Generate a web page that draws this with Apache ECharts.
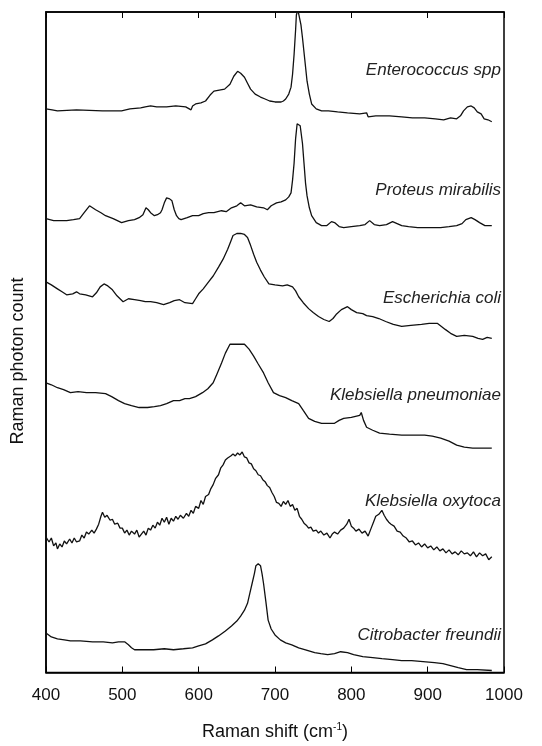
<!DOCTYPE html>
<html>
<head>
<meta charset="utf-8">
<script src="https://cdn.jsdelivr.net/npm/echarts@6/dist/echarts.min.js"></script>
<style>
html,body{margin:0;padding:0;background:#fff;}
#chart{width:542px;height:746px;}
</style>
</head>
<body>
<div id="chart"></div>
<script>
// Raman shift (cm-1) tick labels
const xTicks = [400, 500, 600, 700, 800, 900, 1000];
const speciesNames = ['Enterococcus spp', 'Proteus mirabilis', 'Escherichia coli', 'Klebsiella pneumoniae', 'Klebsiella oxytoca', 'Citrobacter freundii'];

// Spectra: [Raman shift, photon count (arbitrary, offset stacked)]
const enterococcus = [[400,570],[408,569],[415,568],[440,569],[474,568],[499,568],[510,570],[524,571],[530,572],[537,573],[545,572],[558,572],[570,573],[583,572],[590,569],[592,573],[596,575],[603,576],[609,578],[615,584],[620,588],[627,589],[634,590],[641,595],[646,603],[651,608],[655,606],[660,602],[664,596],[668,590],[674,585],[681,582],[687,580],[693,578],[700,577],[708,577],[711,578],[714,580],[718,585],[721,592],[723,605],[725,625],[727,650],[728,665],[730,670],[732,668],[734,655],[736,642],[739,620],[742,598],[745,585],[748,575],[754,570],[761,568],[770,568],[782,567],[795,566],[811,565],[820,566],[822,562],[832,563],[850,563],[866,562],[880,561],[896,561],[910,560],[921,559],[930,561],[938,560],[943,563],[947,568],[952,572],[957,573],[961,571],[965,567],[970,565],[974,560],[979,559],[984,557]];
const proteus = [[400,459],[410,457],[427,457],[436,458],[444,459],[450,465],[457,472],[461,470],[465,468],[472,465],[478,462],[488,459],[499,455],[508,457],[516,458],[522,460],[527,463],[531,470],[534,468],[537,465],[542,462],[546,463],[550,465],[552,468],[555,475],[558,480],[562,479],[565,477],[568,468],[571,462],[574,459],[577,458],[585,460],[592,462],[600,462],[606,464],[613,465],[620,465],[630,467],[636,466],[643,470],[650,472],[655,475],[660,472],[668,473],[676,471],[685,470],[690,468],[695,472],[702,475],[708,476],[714,478],[718,481],[721,485],[723,498],[725,515],[727,540],[729,555],[731,556],[733,553],[736,535],[738,515],[740,495],[742,482],[745,470],[748,462],[754,455],[761,452],[768,452],[774,456],[778,455],[784,451],[790,450],[800,451],[811,452],[818,453],[824,457],[830,453],[837,452],[846,453],[854,456],[860,454],[866,452],[875,451],[887,450],[900,450],[917,450],[928,451],[938,452],[945,454],[950,458],[957,460],[962,458],[968,455],[975,452],[984,452]];
const ecoli = [[400,395],[407,392],[415,388],[421,385],[427,382],[435,383],[440,385],[444,383],[452,382],[461,380],[466,384],[471,390],[476,393],[481,391],[487,387],[493,381],[501,375],[508,378],[516,377],[524,376],[530,375],[537,375],[545,374],[554,372],[562,374],[568,376],[575,377],[582,374],[592,373],[596,378],[600,383],[606,388],[613,395],[619,401],[626,410],[632,418],[638,428],[642,436],[645,442],[650,444],[655,444],[660,443],[664,440],[668,432],[672,423],[676,415],[681,407],[686,400],[692,393],[700,392],[710,391],[716,392],[723,390],[727,386],[731,380],[737,374],[744,368],[750,364],[757,360],[764,357],[771,355],[776,358],[780,362],[787,367],[795,370],[800,367],[807,364],[815,363],[820,361],[828,360],[836,358],[845,355],[855,352],[866,350],[878,351],[892,352],[902,353],[913,353],[918,350],[923,347],[930,343],[938,340],[948,341],[959,340],[966,338],[972,337],[978,339],[984,338]];
const kpneumoniae = [[400,293],[407,291],[415,288],[423,286],[432,283],[442,284],[453,283],[465,283],[478,282],[486,279],[495,275],[503,272],[512,270],[522,268],[533,268],[542,269],[550,270],[558,272],[567,275],[575,275],[582,277],[588,277],[596,279],[605,283],[612,287],[619,293],[624,302],[630,313],[635,323],[641,332],[650,332],[660,332],[666,327],[672,320],[678,312],[685,303],[691,293],[698,283],[706,280],[714,278],[722,275],[731,272],[737,265],[744,257],[752,254],[761,252],[770,252],[778,252],[784,255],[790,257],[800,258],[811,260],[813,263],[816,255],[820,248],[828,245],[837,242],[850,241],[866,240],[880,240],[896,240],[906,239],[917,237],[928,234],[938,230],[948,228],[959,227],[970,227],[984,227]];
const koxytoca = [[400,137],[404,132],[407,136],[410,128],[413,131],[415,125],[418,130],[421,127],[424,133],[427,130],[431,135],[434,131],[437,136],[440,132],[444,133],[447,139],[450,136],[453,142],[456,140],[460,144],[463,141],[466,145],[469,150],[472,158],[474,162],[477,157],[480,159],[484,154],[487,155],[490,150],[494,151],[497,146],[500,146],[503,141],[506,144],[509,139],[512,143],[516,140],[519,144],[522,137],[525,140],[528,143],[531,139],[534,146],[537,144],[540,149],[543,146],[546,152],[549,149],[552,156],[555,152],[558,157],[561,150],[564,156],[567,153],[570,158],[573,155],[576,159],[580,156],[584,161],[587,158],[590,164],[593,161],[596,168],[600,166],[603,174],[606,170],[609,178],[613,180],[616,186],[619,190],[622,196],[626,200],[629,207],[632,210],[635,215],[638,217],[642,219],[645,221],[648,219],[651,222],[654,220],[657,223],[660,218],[663,217],[666,212],[669,211],[672,206],[675,204],[678,200],[681,199],[684,195],[687,193],[690,189],[693,187],[696,182],[699,178],[702,172],[705,171],[708,168],[711,173],[714,170],[717,174],[720,168],[723,170],[726,164],[729,166],[732,158],[735,155],[738,151],[741,149],[744,146],[747,147],[750,143],[754,144],[757,141],[760,143],[764,139],[768,141],[772,136],[775,140],[778,142],[782,140],[786,144],[790,146],[794,150],[797,155],[800,148],[803,146],[806,143],[810,145],[814,141],[818,143],[822,138],[826,146],[829,152],[832,158],[836,160],[840,164],[843,159],[846,155],[849,152],[852,150],[856,148],[860,143],[864,142],[868,138],[872,136],[876,132],[880,133],[884,129],[888,131],[892,127],[896,130],[900,126],[904,128],[908,124],[912,127],[916,123],[920,125],[924,121],[928,124],[932,120],[936,122],[940,119],[944,123],[948,120],[952,121],[956,118],[960,122],[964,117],[968,121],[972,118],[976,120],[980,114],[984,117]];
const citrobacter = [[400,40],[407,36],[415,34],[424,33],[432,32],[445,32],[461,31],[475,31],[487,30],[495,31],[503,31],[508,28],[512,25],[516,23],[528,23],[541,23],[555,24],[567,23],[580,24],[592,25],[600,27],[609,29],[618,33],[626,37],[635,42],[643,47],[650,52],[655,57],[660,63],[664,70],[667,80],[670,90],[673,100],[675,108],[678,110],[681,108],[683,100],[685,90],[688,72],[691,53],[695,44],[700,38],[707,33],[714,30],[722,28],[731,25],[740,23],[752,20],[760,19],[769,18],[778,19],[786,21],[795,20],[803,18],[815,16],[828,15],[840,14],[854,13],[866,12],[879,12],[894,11],[909,10],[920,9],[930,7],[940,5],[951,3],[965,3],[984,2]];

const spectra = [enterococcus, proteus, ecoli, kpneumoniae, koxytoca, citrobacter];
const labelY = [72, 192, 300, 397, 503, 637];

const chart = echarts.init(document.getElementById('chart'));
const FONT = '"Liberation Sans", Arial, sans-serif';

const series = spectra.map((d, i) => ({
  name: speciesNames[i],
  type: 'line',
  data: d,
  showSymbol: false,
  symbol: 'none',
  lineStyle: {color: '#111', width: 1.3},
  clip: true,
  animation: false
}));

const graphics = speciesNames.map((n, i) => ({
  type: 'text', right: 41, top: labelY[i] - 10,
  style: {text: n, font: 'italic 17px ' + FONT, fill: '#222'}
}));
graphics.push({
  type: 'text', x: 18, y: 361, rotation: Math.PI / 2,
  style: {text: 'Raman photon count', font: '18px ' + FONT, fill: '#111', textAlign: 'center', textVerticalAlign: 'middle'}
});

chart.setOption({
  backgroundColor: '#fff',
  animation: false,
  grid: {left: 46, right: 38, top: 12, bottom: 66, show: true, borderColor: '#000', borderWidth: 1.5, backgroundColor: 'transparent'},
  xAxis: [{
    type: 'value', min: xTicks[0], max: xTicks[xTicks.length - 1], interval: 100, position: 'bottom',
    axisLine: {show: true, lineStyle: {color: '#000', width: 1.5}},
    axisTick: {show: true, inside: true, length: 6, lineStyle: {color: '#000', width: 1}},
    axisLabel: {color: '#111', fontSize: 17, fontFamily: FONT, margin: 14, formatter: v => String(v)},
    splitLine: {show: false},
    name: 'Raman shift (cm{sup|-1})', nameLocation: 'middle', nameGap: 50,
    nameTextStyle: {color: '#111', fontSize: 18, fontFamily: FONT, rich: {sup: {fontSize: 10, fontFamily: FONT, color: '#111', verticalAlign: 'top', padding: [0, 0, 9, 0]}}}
  }, {
    type: 'value', min: xTicks[0], max: xTicks[xTicks.length - 1], interval: 100, position: 'top',
    axisLine: {show: true, lineStyle: {color: '#000', width: 1.5}},
    axisTick: {show: true, inside: true, length: 6, lineStyle: {color: '#000', width: 1}},
    axisLabel: {show: false}, splitLine: {show: false}
  }],
  yAxis: {
    type: 'value', min: 0, max: 668,
    axisLine: {show: true, lineStyle: {color: '#000', width: 1.5}},
    axisTick: {show: false}, axisLabel: {show: false}, splitLine: {show: false}
  },
  series: series,
  graphic: graphics
});
</script>
</body>
</html>
